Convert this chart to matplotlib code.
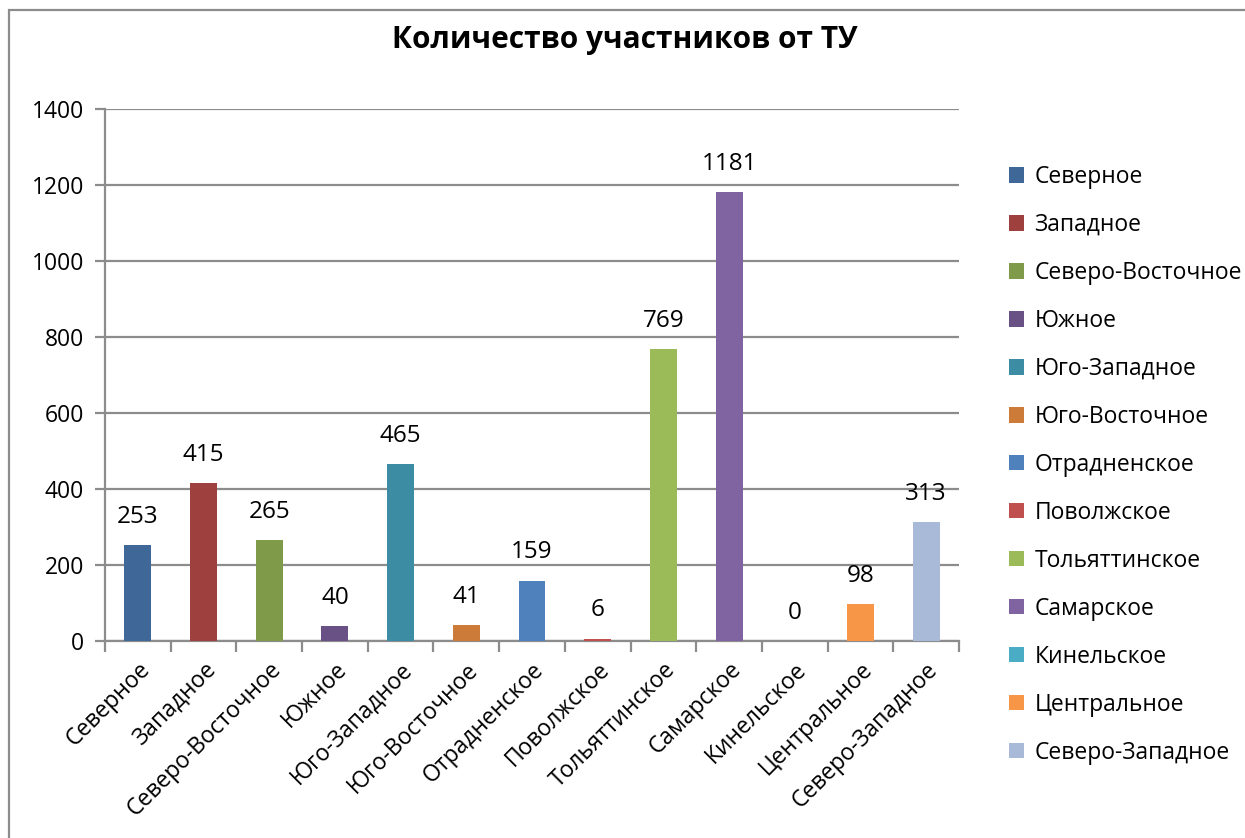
import matplotlib.pyplot as plt
import numpy as np
from matplotlib.patches import Rectangle

# ---------------------------------------------------------------------------
# Data
# ---------------------------------------------------------------------------
categories = [
    "Северное", "Западное", "Северо-Восточное", "Южное", "Юго-Западное",
    "Юго-Восточное", "Отрадненское", "Поволжское", "Тольяттинское",
    "Самарское", "Кинельское", "Центральное", "Северо-Западное",
]
values = [253, 415, 265, 40, 465, 41, 159, 6, 769, 1181, 0, 98, 313]
colors = [
    "#3F6899", "#9E413E", "#7F9A48", "#695185", "#3C8DA3", "#CC7B38",
    "#4F81BD", "#C0504D", "#9BBB59", "#8064A2", "#4BACC6", "#F79646",
    "#A9B9D8",
]
title = "Количество участников от ТУ"
y_ticks = [0, 200, 400, 600, 800, 1000, 1200, 1400]

FONT = ["Open Sans", "DejaVu Sans"]
GRID = "#8C8C8C"

plt.rcParams["font.family"] = FONT

fig = plt.figure(figsize=(12.45, 8.38), dpi=100)

# chart-area border (top and left edges visible, rest cut off)
fig.patches.append(Rectangle(
    (9 / 1245, -0.05), 1.2, (838 - 10) / 838 + 0.05,
    transform=fig.transFigure, fill=False, edgecolor="#8C8C8C",
    linewidth=1.6, zorder=0,
))

ax = fig.add_axes([105 / 1245, 1 - 641 / 838, (959 - 105) / 1245, (641 - 109) / 838])

x = np.arange(len(categories))
bars = ax.bar(x, values, width=0.41, color=colors, zorder=3, label=categories)

for xi, v in zip(x, values):
    ax.annotate(str(v), (xi, v), xytext=(0, 16), textcoords="offset points",
                ha="center", va="baseline", fontsize=17.5, color="black")

ax.set_xlim(-0.5, len(categories) - 0.5)
ax.set_ylim(0, 1400)
ax.set_yticks(y_ticks)
ax.set_yticklabels([str(t) for t in y_ticks], fontsize=16.5)
ax.yaxis.grid(True, color=GRID, linewidth=1.6, zorder=0)
ax.tick_params(axis="y", length=7, width=1.6, color=GRID, pad=8)

ax.set_xticks(x)
ax.set_xticklabels(categories, rotation=45, ha="right", rotation_mode="anchor",
                   fontsize=16.5)
ax.tick_params(axis="x", length=0, pad=12)
ax.set_xticks(np.arange(-0.5, len(categories)), minor=True)
ax.tick_params(axis="x", which="minor", length=8, width=1.6, color=GRID)

for side in ["top", "right"]:
    ax.spines[side].set_visible(False)
for side in ["left", "bottom"]:
    ax.spines[side].set_color(GRID)
    ax.spines[side].set_linewidth(1.6)

fig.text(625 / 1245, 1 - 40 / 838, title, ha="center", va="center",
         fontsize=21.5, fontweight="bold")

leg = fig.legend(
    handles=list(bars), labels=categories, loc="upper left",
    bbox_to_anchor=(1000 / 1245, 1 - 156 / 838), frameon=False,
    fontsize=16.5, handlelength=0.65, handleheight=0.65, handletextpad=0.45,
    labelspacing=1.045, borderaxespad=0,
)

fig.savefig("out.png", dpi=100)
